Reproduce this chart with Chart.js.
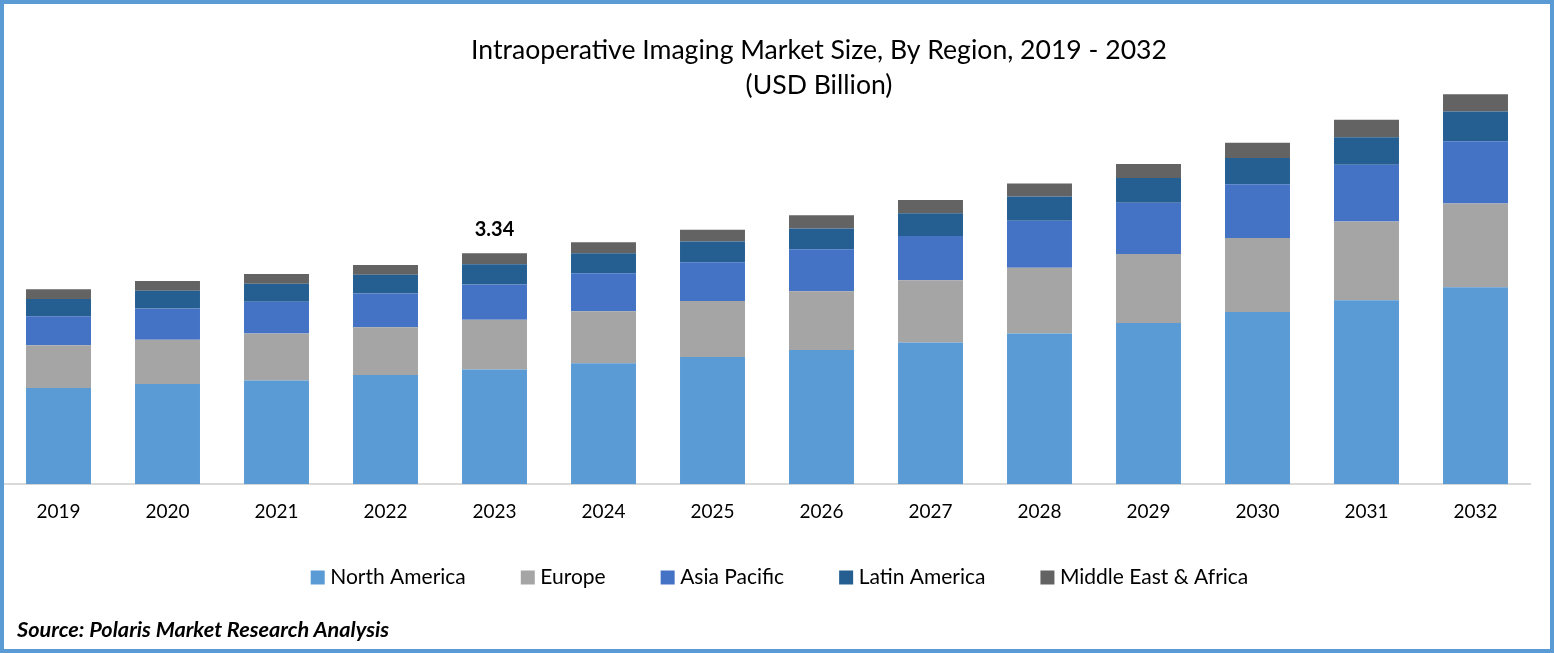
<!DOCTYPE html>
<html>
<head>
<meta charset="utf-8">
<title>Intraoperative Imaging Market Size</title>
<script src="https://cdn.jsdelivr.net/npm/chart.js@4"></script>
<style>
  html, body { margin: 0; padding: 0; background: #fff; }
  #frame { position: relative; width: 1554px; height: 653px; overflow: hidden; }
  #frame::after { content: ""; position: absolute; inset: 0; border: 4px solid #5b9bd5; box-sizing: border-box; pointer-events: none; }
  #myChart { position: absolute; left: 0; top: 0; }
  #source { position: absolute; left: 17px; top: 616px; font: italic bold 21.7px Lato, sans-serif; color: #000; white-space: nowrap; }
</style>
</head>
<body>
<div id="frame">
  <canvas id="myChart" width="1554" height="653"></canvas>
  <div id="source">Source: Polaris Market Research Analysis</div>
</div>
<script>
const years = ["2019", "2020", "2021", "2022", "2023", "2024", "2025", "2026", "2027", "2028", "2029", "2030", "2031", "2032"];

const northAmerica = [1.39, 1.45, 1.50, 1.58, 1.66, 1.75, 1.84, 1.94, 2.05, 2.18, 2.33, 2.49, 2.66, 2.85];
const europe = [0.62, 0.64, 0.68, 0.69, 0.72, 0.75, 0.81, 0.85, 0.90, 0.95, 1.00, 1.07, 1.14, 1.21];
const asiaPacific = [0.42, 0.45, 0.46, 0.49, 0.51, 0.55, 0.56, 0.61, 0.64, 0.68, 0.74, 0.78, 0.82, 0.90];
const latinAmerica = [0.25, 0.26, 0.26, 0.27, 0.29, 0.29, 0.30, 0.30, 0.33, 0.35, 0.36, 0.38, 0.40, 0.43];
const middleEastAfrica = [0.14, 0.14, 0.14, 0.14, 0.16, 0.16, 0.17, 0.19, 0.19, 0.19, 0.20, 0.22, 0.25, 0.25];

const calloutYear = "2023";
const calloutText = "3.34";

const fontName = "Lato, sans-serif";

// moves the legend and title, chart.js only centres them on the canvas
const shiftBlocks = {
  id: "shiftBlocks",
  afterLayout(chart) {
    chart.legend.left += 15;
    chart.legend.right += 15;
    chart.legend.top -= 24;
    chart.legend.bottom -= 24;
    chart.titleBlock.left += 52;
    chart.titleBlock.right += 52;
  },
};

// total label above the highlighted year
const callout = {
  id: "callout",
  afterDatasetsDraw(chart) {
    const index = years.indexOf(calloutYear);
    const topBar = chart.getDatasetMeta(chart.data.datasets.length - 1).data[index];
    const ctx = chart.ctx;
    ctx.save();
    ctx.font = "bold 20px " + fontName;
    ctx.fillStyle = "#000";
    ctx.textAlign = "center";
    ctx.textBaseline = "middle";
    ctx.fillText(calloutText, topBar.x, topBar.y - 24);
    ctx.restore();
  },
};

const data = {
  labels: years,
  datasets: [
    { label: "North America", data: northAmerica, backgroundColor: "#5b9bd5" },
    { label: "Europe", data: europe, backgroundColor: "#a5a5a5" },
    { label: "Asia Pacific", data: asiaPacific, backgroundColor: "#4472c4" },
    { label: "Latin America", data: latinAmerica, backgroundColor: "#255e91" },
    { label: "Middle East & Africa", data: middleEastAfrica, backgroundColor: "#636363" },
  ],
};

const config = {
  type: "bar",
  data,
  options: {
    responsive: false,
    animation: false,
    categoryPercentage: 1,
    barPercentage: 0.596,
    layout: { padding: { left: 4, right: 24, top: 0, bottom: 31 } },
    scales: {
      x: {
        stacked: true,
        grid: { display: false },
        border: { color: "#d9d9d9", width: 2 },
        ticks: { color: "#000", padding: 8, font: { family: fontName, size: 19 } },
      },
      y: {
        display: false,
        stacked: true,
        min: 0,
        max: 5.8,
      },
    },
    plugins: {
      tooltip: { enabled: false },
      title: {
        display: true,
        text: ["Intraoperative Imaging Market Size, By Region, 2019 - 2032", "(USD Billion)"],
        color: "#000",
        font: { family: fontName, size: 26.6, weight: "normal", lineHeight: 1.32 },
        padding: { top: 33, bottom: -20 },
      },
      legend: {
        position: "bottom",
        labels: {
          color: "#000",
          font: { family: fontName, size: 21 },
          usePointStyle: true,
          pointStyle: "rect",
          boxWidth: 4,
          boxHeight: 14,
          padding: 60,
        },
      },
    },
  },
};

document.fonts.load("20px Lato").finally(() => {
  new Chart(document.getElementById("myChart"), { ...config, plugins: [shiftBlocks, callout] });
});
</script>
</body>
</html>
